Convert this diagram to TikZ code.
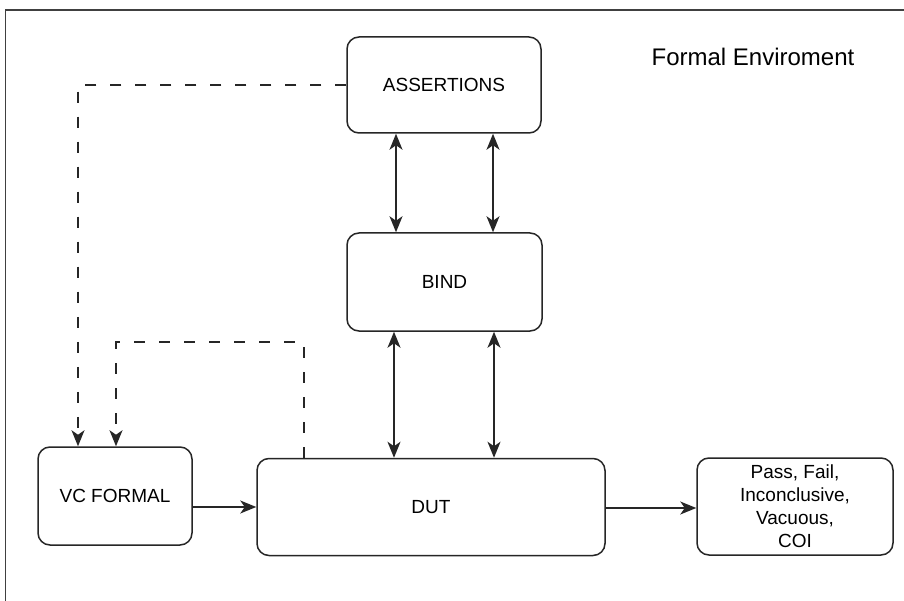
\documentclass[tikz,border=0pt]{standalone}
\usepackage{fontspec}
\setmainfont{Liberation Sans}
\usetikzlibrary{arrows.meta}
\begin{document}
\begin{tikzpicture}[x=1pt,y=-1pt,
  blk/.style={draw=black!85, line width=1.5pt, rounded corners=12pt, align=center, inner sep=0pt, font=\fontsize{19}{23}\selectfont},
  conn/.style={draw=black!85, line width=1.5pt},
  tip/.style={-{Stealth[length=16pt,width=13pt,inset=4.5pt]}},
  dtip/.style={{Stealth[length=16pt,width=13pt,inset=4.5pt]}-{Stealth[length=16pt,width=13pt,inset=4.5pt]}},
  dsh/.style={dash pattern=on 11pt off 14pt}
]
\useasboundingbox (0,0) rectangle (904,601);
\fill[white] (0,0) rectangle (904,601);
% frame
\draw[black!75, line width=1.6pt] (5.5,650) -- (5.5,10) -- (950,10);
\node[font=\fontsize{24}{28}\selectfont, anchor=base] (title) at (753,66) {Formal Enviroment};
% boxes
\node[blk, minimum width=194pt, minimum height=96pt] (assert) at (444,85) {ASSERTIONS};
\node[blk, minimum width=195pt, minimum height=98pt] (bind) at (444.5,282) {BIND};
\node[blk, minimum width=154pt, minimum height=98pt] (vc) at (115,496) {VC FORMAL};
\node[blk, minimum width=348pt, minimum height=97pt] (dut) at (431,507) {DUT};
\node[blk, minimum width=196pt, minimum height=97pt] (res) at (795,506.5) {Pass, Fail,\\Inconclusive,\\Vacuous,\\COI};
% double arrows
\draw[conn, dtip] (assert.south -| 396,0) -- (bind.north -| 396,0);
\draw[conn, dtip] (assert.south -| 493,0) -- (bind.north -| 493,0);
\draw[conn, dtip] (bind.south -| 394,0) -- (dut.north -| 394,0);
\draw[conn, dtip] (bind.south -| 494,0) -- (dut.north -| 494,0);
% dashed
\coordinate (c1) at (78,85);
\draw[conn, dsh, tip] (assert.west) -- (c1) -- (vc.north -| c1);
\coordinate (c2) at (304,342);
\coordinate (c3) at (116,342);
\draw[conn, dsh, tip] (dut.north -| c2) -- (c2) -- (c3) -- (vc.north -| c3);
% solid
\draw[conn, tip] (vc.east |- dut.west) -- (dut.west);
\draw[conn, tip] (dut.east |- 0,508) -- (res.west |- 0,508);
\end{tikzpicture}
\end{document}
